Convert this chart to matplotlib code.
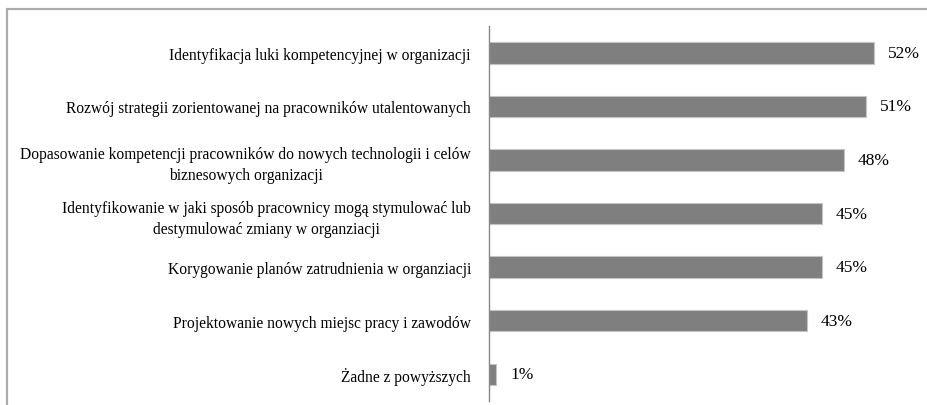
import matplotlib
matplotlib.use("Agg")
import matplotlib.pyplot as plt
from matplotlib.patches import Rectangle

# Survey answers (top to bottom) and their shares
categories = [
    "Identyfikacja luki kompetencyjnej w organizacji",
    "Rozwój strategii zorientowanej na pracowników utalentowanych",
    "Dopasowanie kompetencji pracowników do nowych technologii i celów\nbiznesowych organizacji",
    "Identyfikowanie w jaki sposób pracownicy mogą stymulować lub\ndestymulować zmiany w organziacji",
    "Korygowanie planów zatrudnienia w organziacji",
    "Projektowanie nowych miejsc pracy i zawodów",
    "Żadne z powyższych",
]
shares = [0.52, 0.51, 0.48, 0.45, 0.45, 0.43, 0.01]
value_labels = ["52%", "51%", "48%", "45%", "45%", "43%", "1%"]

plt.rcParams["font.family"] = ["Liberation Serif", "DejaVu Serif"]

W, H, DPI = 928, 406, 100
fig = plt.figure(figsize=(W / DPI, H / DPI), dpi=DPI)
fig.patch.set_facecolor("white")

# Chart-area frame (left and top edges visible)
fig.add_artist(Rectangle((7 / W, -0.05), 1.2, (H - 10) / H + 0.05,
                         transform=fig.transFigure, fill=False,
                         edgecolor="#ababab", linewidth=1.6))

ax = fig.add_axes([489 / W, 4 / H, 407 / W, 375 / H])
ypos = list(range(len(categories)))
ax.barh(ypos, shares, height=0.4, color="#7f7f7f",
        edgecolor="#c4c4c4", linewidth=0.8)

ax.set_xlim(0, 0.55)
ax.set_ylim(len(categories) - 0.5, -0.5)

ax.set_yticks(ypos)
ax.set_yticklabels(categories, fontsize=11.2, ha="right",
                   multialignment="center", linespacing=1.45,
                   color="#000000")
ax.tick_params(axis="y", length=0, pad=13)
ax.set_xticks([])

for y, v, t in zip(ypos, shares, value_labels):
    ax.annotate(t, xy=(v, y), xytext=(10, 0), textcoords="offset points",
                va="center", ha="left", fontsize=12.5, color="#000000")

for side in ("top", "right", "bottom"):
    ax.spines[side].set_visible(False)
ax.spines["left"].set_color("#868686")
ax.spines["left"].set_linewidth(1.0)
ax.set_facecolor("none")

fig.savefig("out.png", dpi=DPI, facecolor="white")
